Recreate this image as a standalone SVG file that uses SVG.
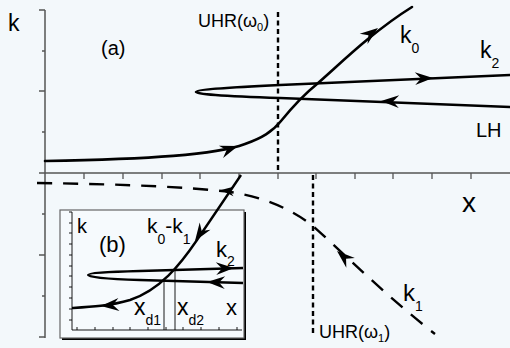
<svg xmlns="http://www.w3.org/2000/svg" width="510" height="348" viewBox="0 0 510 348">
<style>
.ax{stroke:#555;stroke-width:1.5;fill:none}
.tk{stroke:#555;stroke-width:1.3;fill:none}
.cv{stroke:#000;stroke-width:2.6;fill:none;stroke-linecap:round}
.icv{stroke:#000;stroke-width:2.4;fill:none}
.uhr{stroke:#000;stroke-width:2.4;fill:none;stroke-dasharray:5,3.5}
.k1{stroke:#000;stroke-width:2.4;fill:none;stroke-dasharray:15,11}
.thin{stroke:#000;stroke-width:0.9;fill:none}
text{font-family:"Liberation Sans",Arial,sans-serif;fill:#000}
</style>
<defs>
<path id="ah" d="M0,0 L-18,-6.5 L-12,0 L-18,6.5 Z" fill="#000"/>
<path id="ahs" d="M0,0 L-13,-5 L-9,0 L-13,5 Z" fill="#000"/>
</defs>
<rect x="0" y="0" width="510" height="348" fill="#f3f8fb"/>

<g id="axes">
<path class="ax" d="M45,10 V338 M39,173 H510"/>
<path class="tk" d="M39,10 H45 M42,51 H45 M39,91 H45 M42,132 H45 M39,255 H45 M42,214 H45 M42,296 H45 M39,337 H45"/>
<path class="tk" d="M84,173 V179 M123,173 V179 M162,173 V179 M200,173 V179 M239,173 V179 M278,173 V179 M316,173 V179 M355,173 V179 M393,173 V179 M432,173 V179 M471,173 V179"/>
<text x="8" y="31" font-size="23">k</text>
<text x="462" y="212" font-size="28">x</text>
<text x="101" y="55" font-size="20">(a)</text>
</g>

<g id="uhr0">
<line class="uhr" x1="278" y1="12" x2="278" y2="172"/>
<text x="198" y="27" font-size="18">UHR(ω<tspan font-size="11" dy="4">0</tspan><tspan dy="-4">)</tspan></text>
</g>

<g id="uhr1">
<line class="uhr" x1="313" y1="175" x2="313" y2="336"/>
<text x="319" y="338" font-size="18">UHR(ω<tspan font-size="11" dy="4">1</tspan><tspan dy="-4">)</tspan></text>
</g>

<g id="inset">
<rect x="62" y="212" width="184" height="128" fill="#000"/>
<rect x="60" y="210" width="184" height="128" fill="#f6fafd" stroke="#666" stroke-width="1.2"/>
<path class="thin" d="M72,212 V330 H242"/>
<path class="thin" d="M69,212 H72 M69,223 H72 M69,233 H72 M69,244 H72 M69,255 H72 M69,266 H72 M69,276 H72 M69,287 H72 M69,298 H72 M69,309 H72 M69,320 H72"/>
<path class="thin" d="M77,330 V327 M95,330 V327 M113,330 V327 M130,330 V327 M148,330 V327 M166,330 V327 M183,330 V327 M201,330 V327 M219,330 V327 M237,330 V327"/>
<path class="thin" d="M164,281 V330 M175,269 V330"/>
<text x="77" y="233" font-size="20">k</text>
<text x="99" y="252" font-size="22">(b)</text>
<text x="147" y="233" font-size="21">k<tspan font-size="14" dy="11">0</tspan><tspan dy="-11">-k</tspan><tspan font-size="14" dy="11">1</tspan></text>
<text x="216" y="257" font-size="22">k<tspan font-size="14" dy="9">2</tspan></text>
<text x="134" y="315" font-size="23">x<tspan font-size="14" dy="10">d1</tspan></text>
<text x="177" y="315" font-size="23">x<tspan font-size="14" dy="10">d2</tspan></text>
<text x="226" y="315" font-size="22">x</text>
</g>

<g id="connectors">
<path class="cv" d="M45,161 C150,159 215,155 245,144 C262,138 272,132 281,121 C290,110 302,96 317,84 C340,64 372,32 412,7"/>
<use href="#ah" transform="translate(238,146) rotate(-19)"/>
<use href="#ah" transform="translate(378,28) rotate(-37)"/>
<path class="cv" d="M510,75 L280,85 C220,88 196,90 196,92 C196,94 220,96 280,98 L510,107"/>
<use href="#ah" transform="translate(433,78) rotate(-2)"/>
<use href="#ah" transform="translate(381,101) rotate(182)"/>
<path class="k1" d="M37,183 C120,184 190,187 230,192 C260,196 290,208 313,226 C340,250 385,295 435,334"/>
<use href="#ah" transform="translate(337,251) rotate(221)"/>
<use href="#ahs" transform="translate(221,190) rotate(186)"/>
<path class="icv" d="M241,175 L197,240 C180,265 160,290 130,300 C110,306 90,307 72,308"/>
<use href="#ah" transform="translate(195,241) rotate(124)"/>
<path class="icv" d="M243,268 L140,271 C105,272 88,273 88,275 C88,277 105,279 140,280 L243,283"/>
<use href="#ah" transform="translate(234,268) rotate(-2)"/>
<use href="#ah" transform="translate(207,282) rotate(182)"/>
<use href="#ah" transform="translate(101,306) rotate(175)"/>
</g>

<g id="labels">
<text x="400" y="43" font-size="23">k<tspan font-size="14" dy="10">0</tspan></text>
<text x="480" y="58" font-size="23">k<tspan font-size="14" dy="10">2</tspan></text>
<text x="476" y="137" font-size="20">LH</text>
<text x="403" y="301" font-size="24">k<tspan font-size="14" dy="10">1</tspan></text>
</g>
</svg>
